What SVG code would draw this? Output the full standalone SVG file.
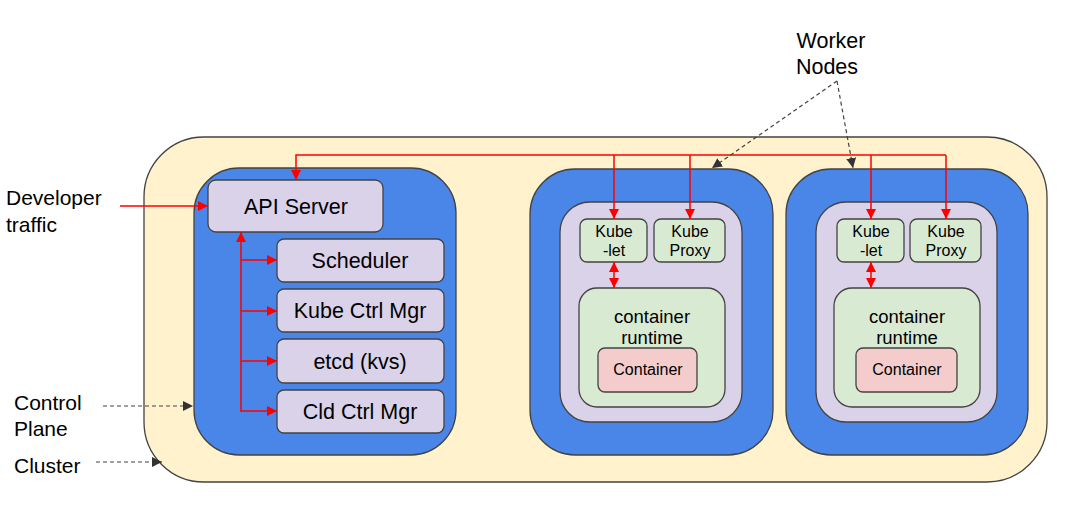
<svg xmlns="http://www.w3.org/2000/svg" width="1081" height="510" viewBox="0 0 1081 510">
<style>
text{font-family:"Liberation Sans",Arial,sans-serif;fill:#000;text-anchor:middle}
.lbl{text-anchor:start;font-size:21px}
.big{font-size:21.5px}
.sm{font-size:16px}
.md{font-size:18.5px}
.box{stroke:#434343;stroke-width:1.3}
.cl{fill:#fff2cc}
.bl{fill:#4a86e8}
.lv{fill:#d9d2e9}
.gr{fill:#d9ead3}
.pk{fill:#f4cccc}
.red{stroke:#ff0000;stroke-width:1.5;fill:none}
.dash{stroke:#434343;stroke-width:1.2;fill:none;stroke-dasharray:4,3}
</style>
<defs>
<marker id="ra" viewBox="0 0 10 10" refX="10" refY="5" markerWidth="10" markerHeight="10" markerUnits="userSpaceOnUse" orient="auto-start-reverse"><path d="M0,0 L10,5 L0,10 z" fill="#ff0000"/></marker>
<marker id="da" viewBox="0 0 10 10" refX="10" refY="5" markerWidth="10" markerHeight="10" markerUnits="userSpaceOnUse" orient="auto"><path d="M0,0 L10,5 L0,10 z" fill="#333"/></marker>
</defs>
<rect width="1081" height="510" fill="#fff"/>
<g id="cluster"><rect class="box cl" x="144" y="137" width="903" height="345" rx="60"/></g>
<g id="control-plane">
<rect class="box bl" x="194" y="168" width="262" height="287" rx="45"/>
</g>
<g id="api-server"><rect class="box lv" x="208" y="180" width="175" height="52" rx="8"/><text class="big" x="296" y="214">API Server</text></g>
<g id="scheduler"><rect class="box lv" x="277" y="239" width="167" height="43" rx="7"/><text class="big" x="360" y="268">Scheduler</text></g>
<g id="kube-ctrl-mgr"><rect class="box lv" x="277" y="289" width="167" height="43" rx="7"/><text class="big" x="360" y="318">Kube Ctrl Mgr</text></g>
<g id="etcd"><rect class="box lv" x="277" y="339" width="167" height="44" rx="7"/><text class="big" x="360" y="369">etcd (kvs)</text></g>
<g id="cld-ctrl-mgr"><rect class="box lv" x="277" y="390" width="167" height="43" rx="7"/><text class="big" x="360" y="419">Cld Ctrl Mgr</text></g>

<g id="worker1">
<rect class="box bl" x="530" y="169" width="243" height="286" rx="45"/>
<rect class="box lv" x="560" y="202" width="182" height="220" rx="30"/>
</g>
<g id="kubelet1"><rect class="box gr" x="580" y="219" width="67" height="43" rx="7"/><text class="sm" x="614" y="237">Kube</text><text class="sm" x="614" y="256">-let</text></g>
<g id="kubeproxy1"><rect class="box gr" x="654" y="219" width="71" height="43" rx="7"/><text class="sm" x="690" y="237">Kube</text><text class="sm" x="690" y="256">Proxy</text></g>
<g id="runtime1"><rect class="box gr" x="579" y="288" width="146" height="119" rx="18"/><text class="md" x="652" y="323">container</text><text class="md" x="652" y="344">runtime</text></g>
<g id="container1"><rect class="box pk" x="598" y="348" width="99" height="44" rx="7"/><text class="sm" x="648" y="375">Container</text></g>

<g id="worker2">
<rect class="box bl" x="786" y="169" width="242" height="286" rx="45"/>
<rect class="box lv" x="816" y="202" width="181" height="220" rx="30"/>
</g>
<g id="kubelet2"><rect class="box gr" x="837" y="219" width="67" height="43" rx="7"/><text class="sm" x="871" y="237">Kube</text><text class="sm" x="871" y="256">-let</text></g>
<g id="kubeproxy2"><rect class="box gr" x="910" y="219" width="71" height="43" rx="7"/><text class="sm" x="946" y="237">Kube</text><text class="sm" x="946" y="256">Proxy</text></g>
<g id="runtime2"><rect class="box gr" x="834" y="288" width="146" height="119" rx="18"/><text class="md" x="907" y="323">container</text><text class="md" x="907" y="344">runtime</text></g>
<g id="container2"><rect class="box pk" x="856" y="348" width="101" height="44" rx="7"/><text class="sm" x="907" y="375">Container</text></g>

<g id="labels">
<text class="lbl" x="6" y="205">Developer</text>
<text class="lbl" x="6" y="232">traffic</text>
<text class="lbl" x="14" y="410">Control</text>
<text class="lbl" x="14" y="436">Plane</text>
<text class="lbl" x="14" y="473">Cluster</text>
<text class="big" x="831" y="48">Worker</text>
<text class="big" x="827" y="74">Nodes</text>
</g>

<g id="connectors">
<path class="red" d="M120,206 H208" marker-end="url(#ra)"/>
<path class="red" d="M946,155 H296 V180" marker-end="url(#ra)"/>
<path class="red" d="M946,155 V219" marker-end="url(#ra)"/>
<path class="red" d="M614,155 V219" marker-end="url(#ra)"/>
<path class="red" d="M690,155 V219" marker-end="url(#ra)"/>
<path class="red" d="M871,155 V219" marker-end="url(#ra)"/>
<path class="red" d="M241,412 V232" marker-end="url(#ra)"/>
<path class="red" d="M241,260 H277" marker-end="url(#ra)"/>
<path class="red" d="M241,311 H277" marker-end="url(#ra)"/>
<path class="red" d="M241,361 H277" marker-end="url(#ra)"/>
<path class="red" d="M241,411 H277" marker-end="url(#ra)"/>
<path class="red" d="M614,262 V288" marker-start="url(#ra)" marker-end="url(#ra)"/>
<path class="red" d="M871,262 V288" marker-start="url(#ra)" marker-end="url(#ra)"/>
<path class="dash" d="M837,81 L712,168" marker-end="url(#da)"/>
<path class="dash" d="M837,81 L853,168" marker-end="url(#da)"/>
<path class="dash" d="M103,406 H193" marker-end="url(#da)"/>
<path class="dash" d="M96,462 H162" marker-end="url(#da)"/>
</g>
</svg>
